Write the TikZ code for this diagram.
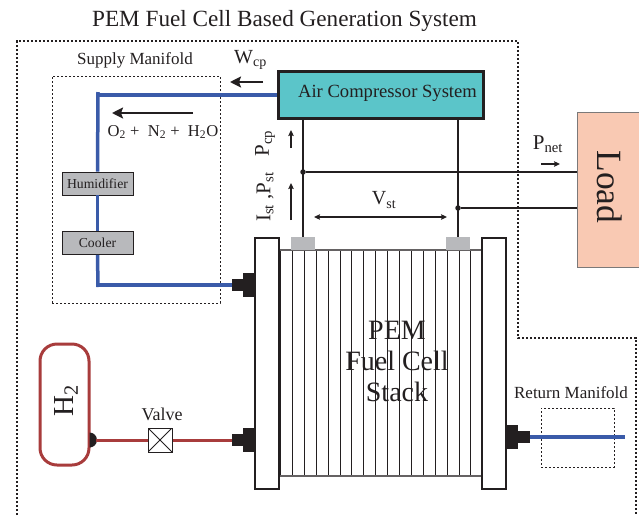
\documentclass[tikz,border=0pt]{standalone}
\usepackage{xcolor}
\usepackage{fontspec}
\setmainfont{Liberation Serif}
\usetikzlibrary{positioning, arrows.meta, shapes.geometric}
\definecolor{textoscuro}{HTML}{231F20}
\definecolor{aireteal}{HTML}{5BC5C9}
\definecolor{cargasalmon}{HTML}{F9C9B3}
\definecolor{grisbloque}{HTML}{B8B9BC}
\definecolor{tubeazul}{HTML}{3A5BA9}
\definecolor{tuberojo}{HTML}{A83C3C}

\begin{document}
\begin{tikzpicture}[
    x=1pt, y=-1pt,
    every node/.style={text=textoscuro, inner sep=0pt},
    blockbox/.style={draw=textoscuro, minimum width=#1},
    graybox/.style={draw=textoscuro, fill=grisbloque, line width=0.9pt, minimum width=71pt, minimum height=23pt, font=\fontsize{13.7}{15}\selectfont},
    plate/.style={draw=textoscuro, fill=white, line width=2pt, minimum width=24pt, minimum height=251pt},
    tab/.style={fill=grisbloque, minimum width=24pt, minimum height=13pt},
    portbig/.style={fill=textoscuro, minimum width=12pt, minimum height=24pt},
    portsmall/.style={fill=textoscuro, minimum width=12pt, minimum height=12pt},
    manifold/.style={draw=textoscuro, line width=0.8pt, dash pattern=on 2.2pt off 1.8pt},
    wire/.style={draw=textoscuro, line width=1.3pt},
    bluepipe/.style={draw=tubeazul, line width=3.5pt},
    redpipe/.style={draw=tuberojo, line width=3pt},
    flow/.style={draw=textoscuro, -{Stealth[length=6pt, width=5.5pt, inset=1pt]}, line width=1.3pt},
    heavyflow/.style={draw=textoscuro, -{Stealth[length=11pt, width=11pt, inset=2pt]}, line width=2.4pt},
    dot/.style={circle, fill=textoscuro, minimum size=5.5pt}
]
\useasboundingbox (0,0) rectangle (639,515);

% boundary of the system
\coordinate (outA) at (17,515);
\coordinate (outB) at (17,41);
\coordinate (outC) at (518,41);
\coordinate (outD) at (518,338);
\coordinate (outE) at (636,338);
\coordinate (outF) at (636,515);
\draw[textoscuro, line width=2.5pt, dash pattern=on 2.3pt off 1.7pt]
    (outA) -- (outB) -- (outC) -- (outD) -- (outE) -- (outF);
\node[font=\fontsize{23.2}{26}\selectfont] (title) at (284.5,21) {PEM Fuel Cell Based Generation System};

% stack
\foreach \i in {0,...,17}
    \draw[textoscuro, line width=1pt] ({280.5+\i*11.9},250) -- ({280.5+\i*11.9},476);
\draw[textoscuro!70, line width=1.2pt] (280,250) -- (481,250);
\draw[textoscuro!70, line width=1.2pt] (280,476) -- (481,476);
\node[plate] (plateL) at (267,363) {};
\node[plate] (plateR) at (493.5,363) {};
\node[tab] (tabL) at (303,243.5) {};
\node[tab] (tabR) at (458,243.5) {};
\node[font=\fontsize{28}{31}\selectfont, align=center] (stack) at (397,361) {PEM\\Fuel Cell\\Stack};

% compressor and load
\node[blockbox=205pt, fill=aireteal, line width=3pt, minimum height=47pt] (aircomp) at (380.5,94.5) {};
\node[font=\fontsize{18.6}{20}\selectfont] (aircomptext) at (387.5,93) {Air Compressor System};
\node[draw=textoscuro!60, fill=cargasalmon, line width=1pt, minimum width=62pt, minimum height=155pt] (load) at (608,189.5) {};
\node[font=\fontsize{35.5}{38}\selectfont, rotate=-90] (loadtext) at (610,187) {Load};

% electrical side
\node[dot] (dotA) at (303,172) {};
\node[dot] (dotB) at (458,208) {};
\draw[wire] (aircomp.south -| dotA) -- (tabL.north);
\draw[wire] (aircomp.south -| dotB) -- (tabR.north);
\draw[wire] (dotA) -- (dotA -| load.west);
\draw[wire] (dotB) -- (dotB -| load.west);

% supply manifold
\node[manifold, minimum width=168pt, minimum height=227pt] (supply) at (136,189.5) {};
\node[font=\fontsize{17}{19}\selectfont] (supplytext) at (135,60) {Supply Manifold};
\node[graybox] (humid) at (97.5,183.5) {Humidifier};
\node[graybox] (cool) at (97.5,243) {Cooler};
\node[portbig] (portUa) at (249,285) {};
\node[portsmall] (portUb) at (238,285) {};
\coordinate (supplyA) at (98,95);
\coordinate (supplyB) at (98,285);
\coordinate (supplyTop) at (98,92);
\coordinate (supplyEnd) at (98,287);
\draw[bluepipe] (aircomp.west |- supplyA) -- (supplyA);
\draw[bluepipe] (supplyTop) -- (humid.north);
\draw[bluepipe] (humid.south) -- (cool.north);
\draw[bluepipe] (cool.south) -- (supplyEnd);
\draw[bluepipe] (supplyB) -- (portUb.west);

% hydrogen side
\node[draw=tuberojo, fill=white, line width=3pt, rounded corners=17pt, minimum width=49pt, minimum height=121pt] (tank) at (64.5,404.5) {};
\node[font=\fontsize{29}{31}\selectfont, rotate=90] (tanktext) at (66,401) {H\textsubscript{2}};
\node[draw=textoscuro, fill=white, line width=1pt, minimum size=24pt,
    path picture={\draw[textoscuro, line width=0.8pt] (path picture bounding box.north west) -- (path picture bounding box.south east)
    (path picture bounding box.north east) -- (path picture bounding box.south west);}] (valve) at (160,440) {};
\node[font=\fontsize{18}{20}\selectfont] (valvetext) at (162,414) {Valve};
\node[portbig] (portLa) at (249,440) {};
\node[portsmall] (portLb) at (238,440) {};
\fill[textoscuro] (89.5,447.5) arc[start angle=-90, end angle=90, radius=7.5pt] -- cycle;
\coordinate (tankport) at (96,440);
\draw[redpipe] (tankport) -- (valve.west);
\draw[redpipe] (valve.east) -- (portLb.west);

% return manifold
\node[portbig] (portRa) at (512,437) {};
\node[portsmall] (portRb) at (524,437) {};
\node[manifold, minimum width=73pt, minimum height=59pt] (return) at (577.5,437.5) {};
\node[font=\fontsize{17}{19}\selectfont] (returntext) at (571,393) {Return Manifold};
\coordinate (returnend) at (625,437);
\draw[bluepipe] (portRb.east) -- (returnend);

% labels with arrows
\coordinate (wcpA) at (263,82);
\coordinate (wcpB) at (230,82);
\draw[heavyflow] (wcpA) -- (wcpB);
\node[font=\fontsize{20}{22}\selectfont] (wcp) at (250.5,60) {W\textsubscript{cp}};
\coordinate (flowA) at (193,113);
\coordinate (flowB) at (112,113);
\draw[heavyflow] (flowA) -- (flowB);
\node[font=\fontsize{16.6}{18}\selectfont] (gases) at (163,132) {O\textsubscript{2} +\ \ N\textsubscript{2} +\ \ H\textsubscript{2}O};
\node[font=\fontsize{21}{23}\selectfont, rotate=90] (pcp) at (265,143.5) {P\textsubscript{cp}};
\node[font=\fontsize{21}{23}\selectfont, rotate=90] (ist) at (265,197) {I\textsubscript{st} ,P\textsubscript{st}};
\coordinate (pcpA) at (291,148);
\coordinate (pcpB) at (291,130);
\draw[flow] (pcpA) -- (pcpB);
\coordinate (istA) at (291,220);
\coordinate (istB) at (291,183);
\draw[flow] (istA) -- (istB);
\coordinate (vstA) at (314,217);
\coordinate (vstB) at (447,217);
\draw[{Stealth[length=6pt, width=5.5pt, inset=1pt]}-{Stealth[length=6pt, width=5.5pt, inset=1pt]}, textoscuro, line width=1.3pt] (vstA) -- (vstB);
\node[font=\fontsize{20}{22}\selectfont] (vst) at (384,200) {V\textsubscript{st}};
\node[font=\fontsize{21}{23}\selectfont] (pnet) at (548,144) {P\textsubscript{net}};
\coordinate (pnetA) at (541,164);
\coordinate (pnetB) at (560,164);
\draw[flow] (pnetA) -- (pnetB);
\end{tikzpicture}
\end{document}
